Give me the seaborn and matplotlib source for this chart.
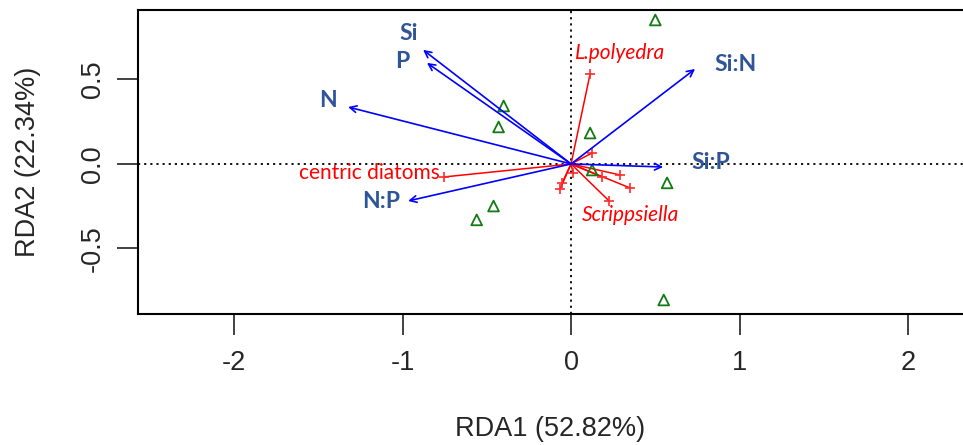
import numpy as np
import pandas as pd
import seaborn as sns
import matplotlib.pyplot as plt

# site scores (green triangles)
site_x = [0.50, -0.40, -0.43, 0.113, 0.57, -0.46, -0.56, 0.55, 0.125]
site_y = [0.852, 0.343, 0.219, 0.183, -0.112, -0.249, -0.331, -0.805, -0.036]

# species scores (red segments with +)
sp_names = ['L.polyedra', 'centric diatoms', 'Scrippsiella', '', '', '', '', '', '', '']
sp_x = [0.113, -0.754, 0.226, 0.125, -0.053, -0.065, 0.012, 0.29, 0.35, 0.184]
sp_y = [0.533, -0.077, -0.219, 0.065, -0.112, -0.148, -0.053, -0.065, -0.142, -0.077]

# environmental vectors (blue arrows)
env_names = ['Si', 'P', 'N', 'N:P', 'Si:N', 'Si:P']
env_x = [-0.878, -0.855, -1.323, -0.967, 0.736, 0.546]
env_y = [0.675, 0.598, 0.337, -0.219, 0.562, -0.018]

# where the labels sit (layout only)
env_lab_pos = [(-0.961, 0.769), (-1.003, 0.604), (-1.442, 0.373),
               (-1.128, -0.225), (0.975, 0.586), (0.827, 0.006)]
sp_lab_pos = {'L.polyedra': (0.291, 0.657, 'center', 'italic'),
              'centric diatoms': (-0.78, -0.053, 'right', 'normal'),
              'Scrippsiella': (0.350, -0.302, 'center', 'italic')}

sites = pd.DataFrame({'x': site_x, 'y': site_y})
species = pd.DataFrame({'x': sp_x, 'y': sp_y})

sns.set_style('white')
plt.rcParams['font.family'] = ['Liberation Sans', 'DejaVu Sans']

fig = plt.figure(figsize=(9.63, 4.45), dpi=100)
ax = fig.add_axes([138 / 963, 131 / 445, 825 / 963, 304 / 445])

ax.axhline(0, color='black', ls=(0, (1.2, 2.2)), lw=1.3, zorder=1)
ax.axvline(0, color='black', ls=(0, (1.2, 2.2)), lw=1.3, zorder=1)

# species segments
for x, y in zip(sp_x, sp_y):
    ax.plot([0, x], [0, y], color='red', lw=1.1, zorder=2)
sns.scatterplot(data=species, x='x', y='y', marker='+', color='#ff2a2a',
                s=45, linewidth=1.2, ax=ax, zorder=3)

# sites
sns.scatterplot(data=sites, x='x', y='y', marker='^', s=60,
                facecolors='none', edgecolor='#137a13', linewidth=1.3,
                ax=ax, zorder=3)

# environmental arrows
for x, y in zip(env_x, env_y):
    ax.annotate('', xy=(x, y), xytext=(0, 0),
                arrowprops=dict(arrowstyle='->', color='blue', lw=1.2,
                                mutation_scale=12, shrinkA=0, shrinkB=0),
                zorder=4)

for name, (lx, ly) in zip(env_names, env_lab_pos):
    ax.text(lx, ly, name, color='#2f5597', fontsize=16.5, fontweight='bold',
            family=['Lato', 'DejaVu Sans'], ha='center', va='center', zorder=5)

for name, (lx, ly, ha, st) in sp_lab_pos.items():
    ax.text(lx, ly, name, color='red', fontsize=15, style=st,
            family=['Lato', 'DejaVu Sans'], ha=ha, va='center', zorder=5)

ax.set_xlim(-2.570, 2.326)
ax.set_ylim(-0.888, 0.911)
ax.set_xticks([-2, -1, 0, 1, 2])
ax.set_xticklabels(['-2', '-1', '0', '1', '2'])
ax.set_yticks([-0.5, 0.0, 0.5])
ax.set_yticklabels(['-0.5', '0.0', '0.5'], rotation=90, va='center')

for side in ['left', 'top', 'bottom']:
    ax.spines[side].set_color('black')
    ax.spines[side].set_linewidth(1.5)
ax.spines['right'].set_visible(False)

ax.tick_params(axis='both', direction='out', length=15, width=1.3,
               color='#333333', labelsize=19.5, pad=11, left=True, bottom=True)
ax.tick_params(axis='y', pad=8)

ax.set_xlabel('RDA1 (52.82%)', fontsize=19.5, labelpad=29)
ax.set_ylabel('RDA2 (22.34%)', fontsize=19.5, labelpad=28)

fig.savefig('out.png', dpi=100)
